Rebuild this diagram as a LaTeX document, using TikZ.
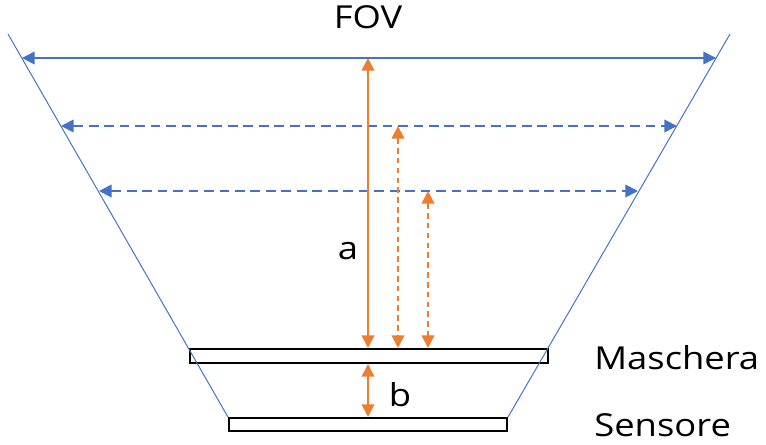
\documentclass[tikz,border=0pt]{standalone}
\usepackage{fontspec}
\setmainfont{Open Sans}
\usetikzlibrary{arrows.meta,calc}
\definecolor{fovBlue}{RGB}{68,114,196}
\definecolor{fovOrange}{RGB}{237,125,49}

\begin{document}
\begin{tikzpicture}[x=0.025cm,y=-0.025cm,
  edge/.style={fovBlue,line width=0.7pt},
  span/.style={fovBlue,line width=1.2pt,{Triangle[length=9pt,width=9pt]}-{Triangle[length=9pt,width=9pt]}},
  gap/.style={fovOrange,line width=1.5pt,{Triangle[length=9pt,width=9pt]}-{Triangle[length=9pt,width=9pt]}},
  plate/.style={draw=black,line width=1.5pt,fill=white,inner sep=0pt},
  lbl/.style={font=\fontsize{22.5}{26}\selectfont,xscale=1.15,inner sep=0pt}]
  \useasboundingbox (0,0) rectangle (766,445);
  % plates
  \node[plate,minimum width=8.95cm,minimum height=0.35cm] (mask) at (369,356) {};
  \node[plate,minimum width=6.95cm,minimum height=0.325cm] (sensor) at (368,424.5) {};
  % field of view edges
  \coordinate (topL) at (8,34);
  \coordinate (topR) at (730,34);
  \draw[edge] (topL) -- (sensor.north west);
  \draw[edge] (topR) -- (sensor.north east);
  % widths
  \coordinate (w1L) at (22,58);   \coordinate (w1R) at (716,58);
  \coordinate (w2L) at (61,126);  \coordinate (w2R) at (677,126);
  \coordinate (w3L) at (99,191);  \coordinate (w3R) at (638,191);
  \draw[span] (w1L) -- (w1R);
  \draw[span,dash pattern=on 7pt off 4pt] (w2L) -- (w2R);
  \draw[span,dash pattern=on 7pt off 4pt] (w3L) -- (w3R);
  % distances
  \coordinate (a1) at (368,58);
  \coordinate (a2) at (398,126);
  \coordinate (a3) at (428,191);
  \draw[gap] (a1) -- (a1 |- mask.north);
  \draw[gap,dash pattern=on 4pt off 3pt] (a2) -- (a2 |- mask.north);
  \draw[gap,dash pattern=on 4pt off 3pt] (a3) -- (a3 |- mask.north);
  \draw[gap] (a1 |- mask.south) -- (a1 |- sensor.north);
  % labels
  \node[lbl,anchor=base] (fov) at (368,29) {FOV};
  \node[lbl,anchor=base] (la) at (348,259) {a};
  \node[lbl,anchor=base] (lb) at (400,406) {b};
  \node[lbl,anchor=base west] (maschera) at (594,369) {Maschera};
  \node[lbl,anchor=base west] (sensore) at (594,436) {Sensore};
\end{tikzpicture}
\end{document}
